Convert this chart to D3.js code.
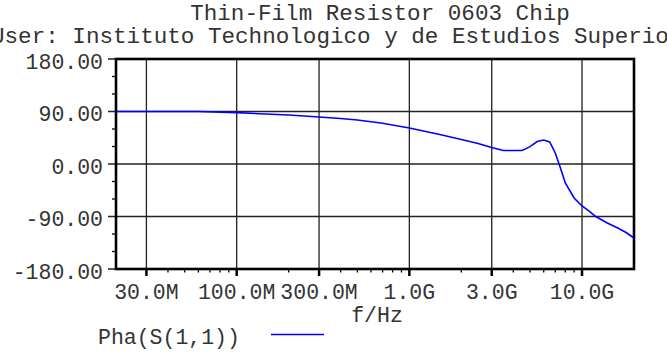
<!DOCTYPE html>
<html>
<head>
<meta charset="utf-8">
<script src="https://cdn.jsdelivr.net/npm/d3@7"></script>
<style>
  body { margin: 0; background: #fff; }
  svg { display: block; }
  text { font-family: "Liberation Mono", "Courier New", monospace; fill: #333; }
</style>
</head>
<body>
<div id="chart"></div>
<script>
// frequency (Hz) and phase of S11 (deg)
var freqs = [20e6, 60e6, 100e6, 200e6, 300e6, 400e6, 500e6, 700e6, 1e9, 1.5e9, 2e9, 2.5e9, 3e9, 3.5e9, 4e9, 4.5e9,
  5e9, 5.5e9, 6e9, 6.5e9, 7e9, 7.5e9, 8e9, 9e9, 10e9, 11e9, 12e9, 14e9, 16e9, 18e9, 20e9];
var phase = [90, 90, 88, 84, 80.6, 78, 75.4, 69.8, 61.7, 50.6, 42, 35.1, 28.3, 23.1, 23.1, 23.1,
  29.7, 38.6, 41.1, 37.7, 18.9, -6.9, -32.6, -58.3, -72, -80.6, -90, -101, -109.4, -117.4, -126.9];

var xMajor = [30e6, 100e6, 300e6, 1e9, 3e9, 10e9];
var xMajorLabels = ["30.0M", "100.0M", "300.0M", "1.0G", "3.0G", "10.0G"];
var xMinor = [40e6, 50e6, 60e6, 70e6, 80e6, 90e6, 200e6, 400e6, 500e6, 600e6, 700e6, 800e6, 900e6,
  2e9, 4e9, 5e9, 6e9, 7e9, 8e9, 9e9];
var yMajor = [180, 90, 0, -90, -180];
var yMinor = [150, 120, 60, 30, -30, -60, -120, -150];

var title = "Thin-Film Resistor 0603 Chip";
var subtitle = "User: Instituto Technologico y de Estudios Superiores de Monterrey";
var xTitle = "f/Hz";
var seriesName = "Pha(S(1,1))";

var W = 667, H = 355;
var m = {left: 116, right: 634, top: 59, bottom: 269};

var svg = d3.select("#chart").append("svg")
  .attr("width", W)
  .attr("height", H);

var x = d3.scaleLog().domain([20e6, 20e9]).range([m.left, m.right]);
var y = d3.scaleLinear().domain([-180, 180]).range([m.bottom, m.top]);

// titles
svg.append("text")
  .attr("x", 380).attr("y", 20)
  .attr("text-anchor", "middle")
  .style("font-size", "22.6px")
  .text(title);
svg.append("text")
  .attr("x", -9).attr("y", 43)
  .style("font-size", "22.6px")
  .text(subtitle);

// grid
svg.append("g").selectAll("line")
  .data(xMajor)
  .enter().append("line")
    .attr("x1", d => x(d)).attr("x2", d => x(d))
    .attr("y1", m.top).attr("y2", m.bottom)
    .attr("stroke", "#222").attr("stroke-width", 1.3);
svg.append("g").selectAll("line")
  .data(yMajor)
  .enter().append("line")
    .attr("x1", m.left - 8).attr("x2", m.right)
    .attr("y1", d => y(d)).attr("y2", d => y(d))
    .attr("stroke", "#222").attr("stroke-width", 1.3);

// minor ticks
svg.append("g").selectAll("line")
  .data(yMinor)
  .enter().append("line")
    .attr("x1", m.left - 4).attr("x2", m.left)
    .attr("y1", d => y(d)).attr("y2", d => y(d))
    .attr("stroke", "#000").attr("stroke-width", 1.3);
svg.append("g").selectAll("line")
  .data(xMinor)
  .enter().append("line")
    .attr("x1", d => x(d)).attr("x2", d => x(d))
    .attr("y1", m.bottom).attr("y2", m.bottom + 3.5)
    .attr("stroke", "#000").attr("stroke-width", 1.3);
svg.append("g").selectAll("line")
  .data(xMajor)
  .enter().append("line")
    .attr("x1", d => x(d)).attr("x2", d => x(d))
    .attr("y1", m.bottom).attr("y2", m.bottom + 7)
    .attr("stroke", "#000").attr("stroke-width", 2.5);

// frame
svg.append("rect")
  .attr("x", m.left).attr("y", m.top)
  .attr("width", m.right - m.left).attr("height", m.bottom - m.top)
  .attr("fill", "none")
  .attr("stroke", "#000").attr("stroke-width", 2.6);

// tick labels
svg.append("g").selectAll("text")
  .data(yMajor)
  .enter().append("text")
    .attr("x", 103).attr("y", d => y(d) + 9.5)
    .attr("text-anchor", "end")
    .style("font-size", "21.5px")
    .text(d => d.toFixed(2));
svg.append("g").selectAll("text")
  .data(xMajor)
  .enter().append("text")
    .attr("x", d => x(d)).attr("y", 299)
    .attr("text-anchor", "middle")
    .style("font-size", "21.5px")
    .text((d, i) => xMajorLabels[i]);
svg.append("text")
  .attr("x", 377).attr("y", 322)
  .attr("text-anchor", "middle")
  .style("font-size", "21.5px")
  .text(xTitle);

// curve
var line = d3.line()
  .x((d, i) => x(freqs[i]))
  .y(d => y(d));
svg.append("path")
  .datum(phase)
  .attr("fill", "none")
  .attr("stroke", "#0000ff")
  .attr("stroke-width", 1.6)
  .attr("d", line);

// legend
svg.append("text")
  .attr("x", 98).attr("y", 344)
  .style("font-size", "21.5px")
  .text(seriesName);
svg.append("line")
  .attr("x1", 271).attr("x2", 324)
  .attr("y1", 334.5).attr("y2", 334.5)
  .attr("stroke", "#0000ff").attr("stroke-width", 1.6);
</script>
</body>
</html>
